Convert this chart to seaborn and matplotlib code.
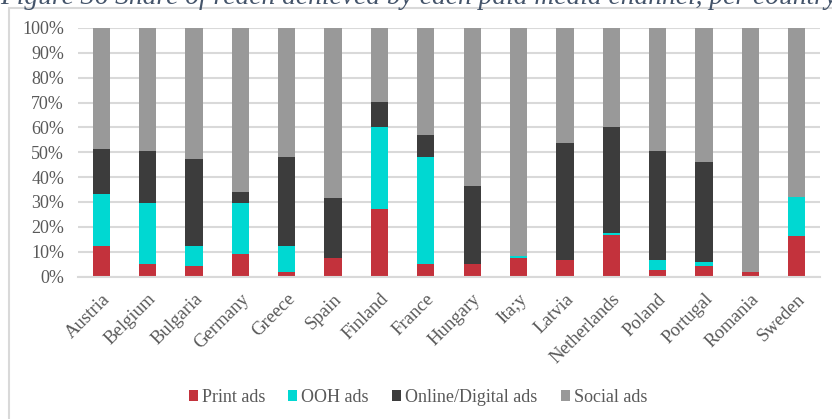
import matplotlib
matplotlib.use("Agg")
import matplotlib.pyplot as plt
from matplotlib.patches import Patch
from matplotlib.lines import Line2D
import numpy as np
import pandas as pd
import seaborn as sns

# Share of reach per paid media channel (%), one entry per country
countries = ["Austria", "Belgium", "Bulgaria", "Germany", "Greece", "Spain",
             "Finland", "France", "Hungary", "Ita;y", "Latvia", "Netherlands",
             "Poland", "Portugal", "Romania", "Sweden"]
print_ads = [12.1, 5.1, 4.3, 9.0, 1.9, 7.4, 27.0, 5.1, 5.1, 7.3, 6.7, 16.9, 2.8, 4.4, 1.9, 16.1]
ooh_ads = [21.2, 24.3, 7.8, 20.4, 10.2, 0.0, 33.0, 43.1, 0.0, 1.0, 0.0, 0.8, 3.9, 1.5, 0.0, 15.7]
online_ads = [18.0, 21.2, 35.3, 4.6, 36.1, 24.3, 10.1, 8.6, 31.4, 0.0, 47.0, 42.3, 43.9, 40.0, 0.0, 0.0]
social_ads = [48.7, 49.4, 52.6, 66.0, 51.8, 68.3, 29.9, 43.2, 63.5, 91.7, 46.3, 40.0, 49.4, 54.1, 98.1, 68.2]

series_names = ["Print ads", "OOH ads", "Online/Digital ads", "Social ads"]
series_colors = ["#C3323C", "#00D8D2", "#3C3C3C", "#999999"]

df = pd.DataFrame({
    "country": countries,
    "Print ads": print_ads,
    "OOH ads": ooh_ads,
    "Online/Digital ads": online_ads,
    "Social ads": social_ads,
})
# cumulative tops of each stacked segment
cum = df[series_names].cumsum(axis=1)

sns.set_theme(style="white")
plt.rcParams["font.family"] = ["Liberation Serif", "DejaVu Serif"]
text_color = "#595959"
grid_color = "#D9D9D9"
fs = 13.5

fig = plt.figure(figsize=(8.32, 4.19), dpi=100)
ax = fig.add_axes([78 / 832, 1 - 276.5 / 419, (820 - 78) / 832, (276.5 - 28) / 419])

# draw from the tallest cumulative layer down so each segment shows on top
for name, color in zip(series_names[::-1], series_colors[::-1]):
    sns.barplot(x=df["country"], y=cum[name], color=color, width=0.37,
                saturation=1, ax=ax, linewidth=0, zorder=3)

ax.set_ylim(0, 100)
ax.set_xlim(-0.5, len(countries) - 0.5)
ax.set_yticks(np.arange(0, 101, 10))
ax.set_yticklabels([f"{v}%" for v in range(0, 101, 10)], color=text_color, fontsize=13)
ax.set_xticks(range(len(countries)))
ax.set_xticklabels(countries, rotation=45, ha="right", rotation_mode="anchor",
                   color=text_color, fontsize=fs)
ax.set_xlabel("")
ax.set_ylabel("")
ax.tick_params(axis="both", length=0)
ax.tick_params(axis="y", pad=10)
ax.tick_params(axis="x", pad=10)
ax.yaxis.grid(True, color=grid_color, linewidth=1.5, zorder=0)
ax.set_axisbelow(True)
for side in ["top", "right", "left"]:
    ax.spines[side].set_visible(False)
ax.spines["bottom"].set_color(grid_color)
ax.spines["bottom"].set_linewidth(1.5)
ax.spines["bottom"].set_zorder(4)

handles = [Patch(facecolor=c, edgecolor="none", label=n)
           for n, c in zip(series_names, series_colors)]
fig.legend(handles=handles, loc="center", bbox_to_anchor=(418 / 832, 1 - 397 / 419),
           ncol=4, frameon=False, fontsize=13, labelcolor=text_color,
           handlelength=0.5, handleheight=0.57, handletextpad=0.22,
           columnspacing=1.3)

# chart frame (left and top edges)
fig.add_artist(Line2D([8.5 / 832, 8.5 / 832], [0, 1 - 8.5 / 419],
                      color=grid_color, linewidth=1.5, transform=fig.transFigure))
fig.add_artist(Line2D([8.5 / 832, 1], [1 - 8.5 / 419, 1 - 8.5 / 419],
                      color=grid_color, linewidth=1.5, transform=fig.transFigure))

fig.text(0.0, 1 - 4.5 / 419,
         "Figure 36 Share of reach achieved by each paid media channel, per country",
         ha="left", va="baseline", fontsize=19.8, style="italic", color="#44546A")

fig.savefig("out.png", dpi=100)
